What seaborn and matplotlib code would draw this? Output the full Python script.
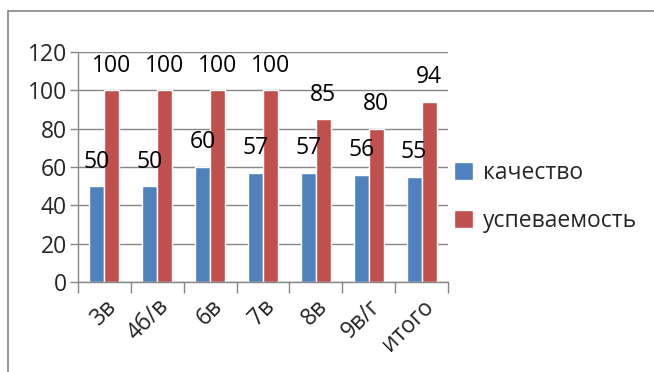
import numpy as np
import pandas as pd
import seaborn as sns
from matplotlib import pyplot as plt
from matplotlib.lines import Line2D

classes = ["3в", "4б/в", "6в", "7в", "8в", "9в/г", "итого"]
kachestvo = [50, 50, 60, 57, 57, 56, 55]
uspevaemost = [100, 100, 100, 100, 85, 80, 94]
series = ["качество", "успеваемость"]
yticks = [0, 20, 40, 60, 80, 100, 120]

df = pd.DataFrame({
    "class": classes * 2,
    "value": kachestvo + uspevaemost,
    "series": [series[0]] * len(classes) + [series[1]] * len(classes),
})

sns.set_theme(style="white")
plt.rcParams["font.family"] = ["Open Sans", "DejaVu Sans"]
fs = 16.5

grey = "#868686"
fig = plt.figure(figsize=(6.54, 3.72), dpi=100)
ax = fig.add_axes([78 / 654, 1 - 282 / 372, 370 / 654, 230 / 372])

sns.barplot(data=df, x="class", y="value", hue="series", order=classes,
            palette=["#4F81BD", "#C0504D"], width=0.57, saturation=1,
            ax=ax, legend=True)

for cont in ax.containers:
    ax.bar_label(cont, padding=9, fontsize=fs, color="black")

ax.set_ylim(0, 120)
ax.set_yticks(yticks)
ax.set_xlim(-0.5, len(classes) - 0.5)
ax.set_xlabel("")
ax.set_ylabel("")
ax.yaxis.grid(True, color=grey, linewidth=1)
ax.set_axisbelow(True)
for s in ["top", "right"]:
    ax.spines[s].set_visible(False)
for s in ["left", "bottom"]:
    ax.spines[s].set_color(grey)
    ax.spines[s].set_linewidth(1)

ax.set_xticks(np.arange(-0.5, len(classes)), minor=True)
ax.tick_params(axis="x", which="minor", length=8, color=grey, width=1, bottom=True)
ax.tick_params(axis="x", which="major", length=0, pad=9, labelsize=fs)
ax.tick_params(axis="y", length=6, color=grey, width=1, left=True, labelsize=fs, pad=2)
plt.setp(ax.get_xticklabels(), rotation=45, ha="right", rotation_mode="anchor")

ax.legend(loc="center left", bbox_to_anchor=(454 / 654, 1 - 197 / 372),
          bbox_transform=fig.transFigure, frameon=False, fontsize=fs,
          handlelength=0.85, handleheight=0.85, handletextpad=0.4,
          labelspacing=1.05, borderaxespad=0, borderpad=0)

# outer chart frame
fig.add_artist(Line2D([8 / 654, 8 / 654], [0, 1 - 11 / 372], color=grey, lw=1.2,
                      transform=fig.transFigure))
fig.add_artist(Line2D([8 / 654, 1], [1 - 11 / 372, 1 - 11 / 372], color=grey, lw=1.2,
                      transform=fig.transFigure))

fig.savefig("out.png", dpi=100)
